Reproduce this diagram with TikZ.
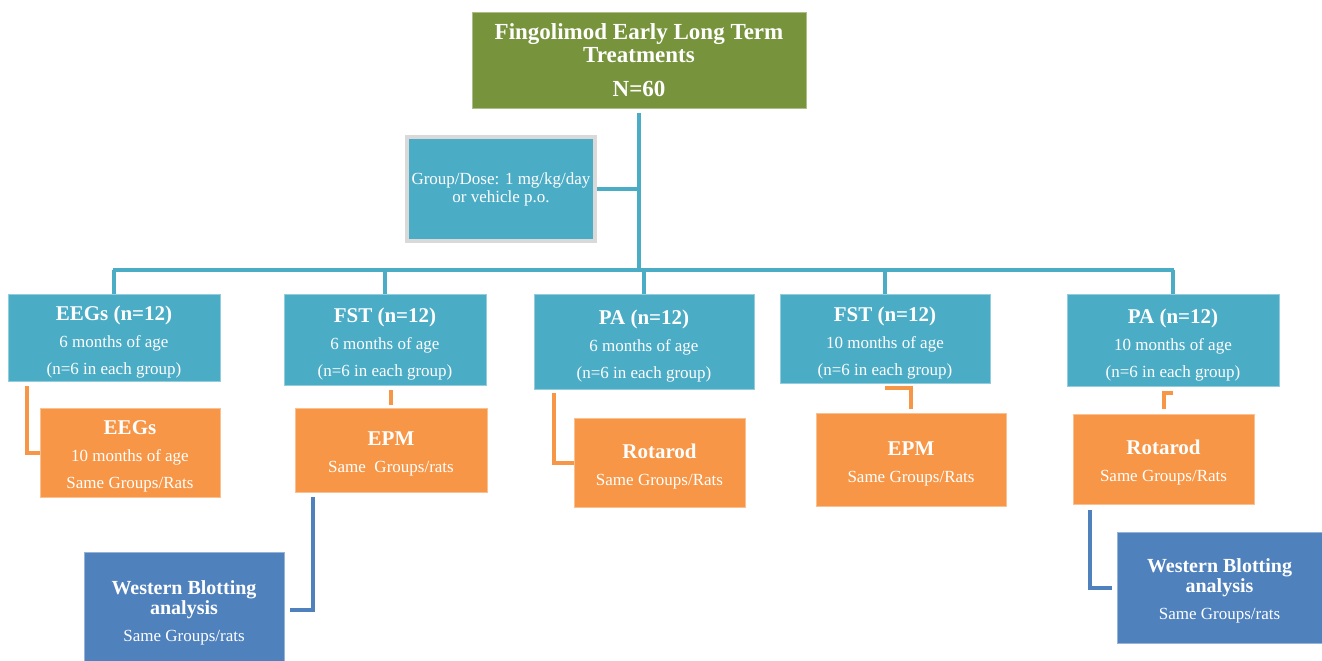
\documentclass[tikz,border=0pt]{standalone}
\usepackage{fontspec}
\setmainfont{Liberation Serif}
\definecolor{cgreen}{HTML}{77933C}
\definecolor{cblue}{HTML}{4BACC6}
\definecolor{corange}{HTML}{F79646}
\definecolor{cdblue}{HTML}{4F81BD}
\definecolor{cgrey}{HTML}{D9D9D9}
\newcommand{\ttl}[1]{{\fontsize{21}{27}\selectfont\bfseries\rule{0pt}{24.5pt}#1}}
\newcommand{\ottl}[1]{{\fontsize{21}{27}\selectfont\bfseries\rule{0pt}{22pt}#1}}
\newcommand{\wbttl}{\fontsize{20}{20}\selectfont\bfseries}
\begin{document}
\begin{tikzpicture}[x=1pt,y=-1pt,
  box/.style={rectangle, inner sep=0pt, align=center, text=white,
    font=\fontsize{17}{27}\selectfont},
  lvltwo/.style={box, fill=cblue, draw=cblue!60!white, line width=0.8pt},
  orbox/.style={box, fill=corange, draw=corange!60!white, line width=0.8pt},
  wbbox/.style={box, fill=cdblue, draw=cdblue!60!white, line width=0.8pt,
    font=\fontsize{17}{20}\selectfont},
  bl/.style={draw=cblue, line width=4pt},
  ol/.style={draw=corange, line width=4pt},
  dl/.style={draw=cdblue, line width=4pt}]
\useasboundingbox (0,0) rectangle (1322,661);
\fill[white] (0,0) rectangle (1322,661);

% top
\node[box, fill=cgreen, draw=cgreen!60!white, line width=0.8pt,
  minimum width=334pt, minimum height=96pt,
  font=\fontsize{23}{23}\selectfont\bfseries] (top) at (639,60)
  {Fingolimod Early Long Term\\Treatments\\[11pt]N=60};

\node[box, fill=cblue, draw=cgrey, line width=4pt,
  minimum width=188pt, minimum height=104pt,
  font=\fontsize{17}{18}\selectfont] (grp) at (501,189)
  {Group/Dose: 1 mg/kg/day\\or vehicle p.o.};

% level 2
\node[lvltwo, minimum width=212pt, minimum height=87pt] (eeg) at (114,337.5)
  {\ttl{EEGs (n=12)}\\6 months of age\\(n=6 in each group)};
\node[lvltwo, minimum width=202pt, minimum height=91pt] (fst) at (385,339.5)
  {\ttl{FST (n=12)}\\6 months of age\\(n=6 in each group)};
\node[lvltwo, minimum width=220pt, minimum height=95pt] (pa) at (644,341.5)
  {\ttl{PA (n=12)}\\6 months of age\\(n=6 in each group)};
\node[lvltwo, minimum width=210pt, minimum height=89pt] (fstt) at (885,338.5)
  {\ttl{FST (n=12)}\\10 months of age\\(n=6 in each group)};
\node[lvltwo, minimum width=212pt, minimum height=92pt] (pat) at (1173,340)
  {\ttl{PA (n=12)}\\10 months of age\\(n=6 in each group)};

% orange
\node[orbox, minimum width=180pt, minimum height=89pt] (oa) at (130,452.5)
  {\ottl{EEGs}\\10 months of age\\Same Groups/Rats};
\node[orbox, minimum width=192pt, minimum height=84pt] (ob) at (391,450)
  {\ottl{EPM}\\Same\ \ Groups/rats};
\node[orbox, minimum width=171pt, minimum height=89pt] (oc) at (659.5,462.5)
  {\ottl{Rotarod}\\Same Groups/Rats};
\node[orbox, minimum width=190pt, minimum height=93pt] (od) at (911,459.5)
  {\ottl{EPM}\\Same Groups/Rats};
\node[orbox, minimum width=181pt, minimum height=90pt] (oe) at (1163.5,459)
  {\ottl{Rotarod}\\Same Groups/Rats};

% western blotting
\node[wbbox, minimum width=200pt, minimum height=116pt] (wa) at (184,610)
  {\wbttl\rule{0pt}{20pt}Western Blotting\\\wbttl analysis\\[7pt]Same Groups/rats};
\node[wbbox, minimum width=205pt, minimum height=111pt] (wb) at (1219.5,587.5)
  {\wbttl\rule{0pt}{20pt}Western Blotting\\\wbttl analysis\\[7pt]Same Groups/rats};

% bus
\coordinate (busL) at (113,270);
\coordinate (busR) at (1174,270);
\draw[bl] ([yshift=-5pt]top.south) -- (top.south |- busL);
\draw[bl] (grp.east) -- (grp.east -| top.south);
\draw[bl] (busL) -- (busR);
\draw[bl] (eeg.north |- busL) -- (eeg.north);
\draw[bl] (fst.north |- busL) -- (fst.north);
\draw[bl] (pa.north |- busL) -- (pa.north);
\draw[bl] (fstt.north |- busL) -- (fstt.north);
\draw[bl] (pat.north |- busL) -- (pat.north);

% orange connectors
\draw[ol] ([xshift=19pt,yshift=-5pt]eeg.south west) |- (oa.west);
\draw[ol] ([yshift=-5pt]fst.south -| ob.north) -- ([yshift=3pt]ob.north);
\draw[ol] ([xshift=20pt,yshift=-4pt]pa.south west) |- (oc.west);
\draw[ol] ([yshift=-5pt]fstt.south) -| ([yshift=4pt]od.north);
\draw[ol] ([yshift=-7pt]pat.south) -| ([yshift=5pt]oe.north);

% dark blue connectors
\draw[dl] ([xshift=18pt,yshift=-5pt]ob.south west) |- ([xshift=6pt]wa.east);
\draw[dl] ([xshift=17pt,yshift=-6pt]oe.south west) |- ([xshift=-5pt]wb.west);
\end{tikzpicture}
\end{document}
